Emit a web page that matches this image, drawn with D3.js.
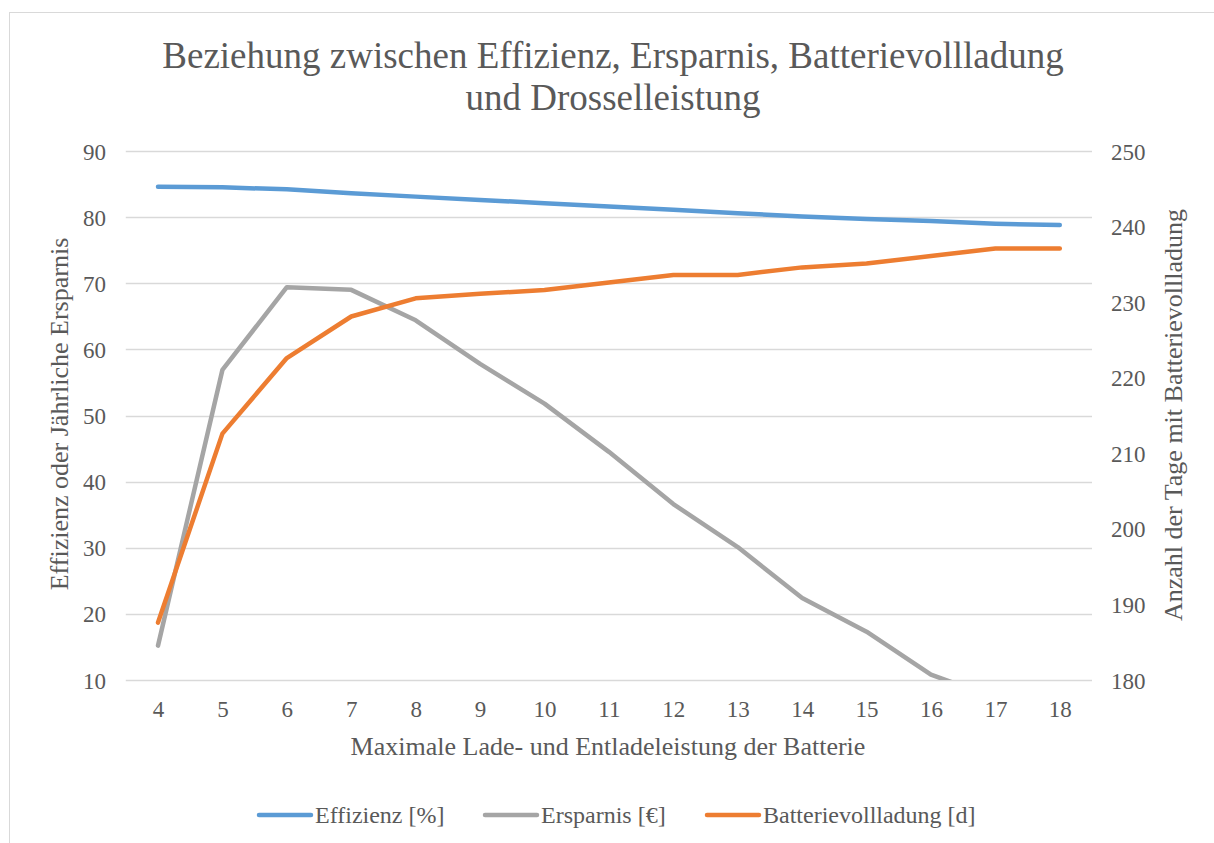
<!DOCTYPE html>
<html>
<head>
<meta charset="utf-8">
<script src="https://cdn.jsdelivr.net/npm/d3@7"></script>
<style>
    body { margin: 0; background: #ffffff; }
    text { font-family: "Liberation Serif", "Times New Roman", serif; fill: #595959; }
</style>
</head>
<body>
<script>
// categories on the x axis (max charge/discharge power)
var leistung = [4, 5, 6, 7, 8, 9, 10, 11, 12, 13, 14, 15, 16, 17, 18];

// series values
var effizienz = [84.6, 84.5, 84.2, 83.6, 83.1, 82.6, 82.1, 81.6, 81.1, 80.6, 80.1, 79.7, 79.4, 79.0, 78.8];
var ersparnis = [15.2, 56.9, 69.4, 69.0, 64.4, 57.8, 51.8, 44.5, 36.6, 30.1, 22.4, 17.3, 10.8, 7.3, 4.0];
var vollladung = [187.6, 212.6, 222.6, 228.1, 230.5, 231.1, 231.6, 232.6, 233.6, 233.6, 234.6, 235.1, 236.1, 237.1, 237.1];

// tick labels
var leftTicks = [10, 20, 30, 40, 50, 60, 70, 80, 90];
var rightTicks = [180, 190, 200, 210, 220, 230, 240, 250];

var titleLines = ["Beziehung zwischen Effizienz, Ersparnis, Batterievollladung", "und Drosselleistung"];
var seriesNames = ["Effizienz [%]", "Ersparnis [€]", "Batterievollladung [d]"];
var seriesColors = ["#5B9BD5", "#A5A5A5", "#ED7D31"];

window.onload = function() {
    drawChart();
};

function drawChart() {
    const width = 1214;
    const height = 843;

    // plot area
    var left = 125.8, right = 1092, top = 151, bottom = 680;

    var svg = d3.select("body")
                .append("svg")
                .attr("width", width)
                .attr("height", height);

    // chart frame
    svg.append("rect")
        .attr("x", 9.5)
        .attr("y", 12.5)
        .attr("width", 1230)
        .attr("height", 860)
        .attr("fill", "#ffffff")
        .attr("stroke", "#D9D9D9")
        .attr("stroke-width", 1);

    // scales
    var x = d3.scalePoint()
              .domain(leistung)
              .range([left, right])
              .padding(0.5);

    var yLeft = d3.scaleLinear()
                  .domain([10, 90])
                  .range([bottom, top]);

    var yRight = d3.scaleLinear()
                   .domain([180, 250])
                   .range([bottom, top]);

    // gridlines
    svg.append("g")
        .selectAll("line")
        .data(leftTicks)
        .enter()
        .append("line")
        .attr("x1", left)
        .attr("x2", right)
        .attr("y1", function(d) { return Math.round(yLeft(d)) + 0.5; })
        .attr("y2", function(d) { return Math.round(yLeft(d)) + 0.5; })
        .attr("stroke", "#D9D9D9")
        .attr("stroke-width", 1.3);

    var tickFont = "23px";

    // left axis labels
    var axisLeft = d3.axisLeft(yLeft).tickValues(leftTicks).tickSize(0).tickPadding(0);
    var gL = svg.append("g")
        .attr("transform", "translate(106,0)")
        .call(axisLeft);
    gL.select(".domain").remove();
    gL.selectAll("text")
        .attr("font-size", tickFont)
        .style("font-family", "Liberation Serif")
        .attr("fill", "#595959")
        .attr("dy", "0.35em");

    // right axis labels
    var axisRight = d3.axisRight(yRight).tickValues(rightTicks).tickSize(0).tickPadding(0);
    var gR = svg.append("g")
        .attr("transform", "translate(1111,0)")
        .call(axisRight);
    gR.select(".domain").remove();
    gR.selectAll("text")
        .attr("font-size", tickFont)
        .style("font-family", "Liberation Serif")
        .attr("fill", "#595959")
        .attr("dy", "0.35em");

    // bottom axis labels
    var axisBottom = d3.axisBottom(x).tickSize(0).tickPadding(0);
    var gB = svg.append("g")
        .attr("transform", "translate(0,717)")
        .call(axisBottom);
    gB.select(".domain").remove();
    gB.selectAll("text")
        .attr("font-size", tickFont)
        .style("font-family", "Liberation Serif")
        .attr("fill", "#595959")
        .attr("dy", "0");

    // clip lines to plot area
    svg.append("clipPath")
        .attr("id", "plotClip")
        .append("rect")
        .attr("x", 0)
        .attr("y", top - 10)
        .attr("width", width)
        .attr("height", bottom - top + 10);

    var lineLeft = d3.line()
                     .x(function(d, i) { return x(leistung[i]); })
                     .y(function(d) { return yLeft(d); });

    var lineRight = d3.line()
                      .x(function(d, i) { return x(leistung[i]); })
                      .y(function(d) { return yRight(d); });

    var lines = svg.append("g").attr("clip-path", "url(#plotClip)");

    var seriesData = [
        { values: effizienz, line: lineLeft, color: seriesColors[0] },
        { values: ersparnis, line: lineLeft, color: seriesColors[1] },
        { values: vollladung, line: lineRight, color: seriesColors[2] }
    ];

    lines.selectAll("path")
        .data(seriesData)
        .enter()
        .append("path")
        .attr("d", function(d) { return d.line(d.values); })
        .attr("fill", "none")
        .attr("stroke", function(d) { return d.color; })
        .attr("stroke-width", 4.5)
        .attr("stroke-linecap", "round")
        .attr("stroke-linejoin", "round");

    // title
    svg.append("g")
        .selectAll("text")
        .data(titleLines)
        .enter()
        .append("text")
        .attr("x", 613)
        .attr("y", function(d, i) { return 68 + i * 42; })
        .attr("text-anchor", "middle")
        .attr("font-size", "37px")
        .text(function(d) { return d; });

    // axis titles
    svg.append("text")
        .attr("transform", "translate(68,414) rotate(-90)")
        .attr("text-anchor", "middle")
        .attr("font-size", "26px")
        .text("Effizienz oder Jährliche Ersparnis");

    svg.append("text")
        .attr("transform", "translate(1182,415) rotate(-90)")
        .attr("text-anchor", "middle")
        .attr("font-size", "26px")
        .text("Anzahl der Tage mit Batterievollladung");

    svg.append("text")
        .attr("x", 608)
        .attr("y", 755)
        .attr("text-anchor", "middle")
        .attr("font-size", "26px")
        .text("Maximale Lade- und Entladeleistung der Batterie");

    // legend
    var legendX = [257, 483, 705];
    var legend = svg.append("g")
                    .selectAll("g")
                    .data(seriesNames)
                    .enter()
                    .append("g")
                    .attr("transform", function(d, i) { return "translate(" + legendX[i] + ",815)"; });

    legend.append("line")
        .attr("x1", 2)
        .attr("x2", 54)
        .attr("y1", 0)
        .attr("y2", 0)
        .attr("stroke", function(d, i) { return seriesColors[i]; })
        .attr("stroke-width", 4.5)
        .attr("stroke-linecap", "round");

    legend.append("text")
        .attr("x", 58)
        .attr("y", 0)
        .attr("dy", "0.35em")
        .attr("font-size", "24px")
        .text(function(d) { return d; });
}
</script>
</body>
</html>
